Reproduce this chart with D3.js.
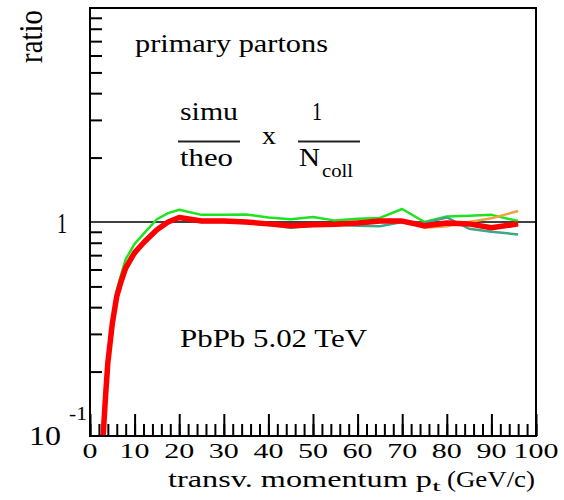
<!DOCTYPE html>
<html>
<head>
<meta charset="UTF-8">
<script src="https://cdnjs.cloudflare.com/ajax/libs/d3/7.8.5/d3.min.js"></script>
</head>
<body style="margin:0">
<div id="chart"></div>
<script>
// transverse momentum points (GeV/c)
const pt = [2.5, 3, 3.5, 4, 5, 6, 7, 8, 10, 12, 15, 17.5, 20, 25, 30, 35, 40, 45, 50, 55, 60, 65, 70, 75, 80, 85, 90, 96];

// ratio simu/theo x 1/Ncoll, one array per curve
const greenRatio  = [0.075, 0.11, 0.165, 0.235, 0.35, 0.48, 0.57, 0.67, 0.79, 0.88, 1.03, 1.1, 1.14, 1.08, 1.08, 1.085, 1.05, 1.03, 1.055, 1.015, 1.035, 1.045, 1.15, 1.0, 1.06, 1.07, 1.08, 1.01];
const tealRatio   = [0.065, 0.1, 0.145, 0.21, 0.32, 0.43, 0.51, 0.59, 0.70, 0.79, 0.91, 0.99, 1.04, 1.0, 1.0, 0.99, 0.97, 0.94, 0.96, 0.97, 0.96, 0.955, 1.0, 0.99, 1.05, 0.93, 0.9, 0.875];
const orangeRatio = [0.07, 0.105, 0.155, 0.22, 0.335, 0.45, 0.53, 0.61, 0.72, 0.80, 0.92, 1.0, 1.05, 1.01, 1.01, 1.0, 0.98, 0.965, 0.975, 0.98, 0.99, 1.0, 1.02, 0.94, 0.955, 1.0, 1.04, 1.125];
const redRatio    = [0.07, 0.105, 0.155, 0.22, 0.335, 0.45, 0.53, 0.61, 0.72, 0.80, 0.92, 1.0, 1.05, 1.01, 1.01, 1.0, 0.98, 0.96, 0.97, 0.975, 0.99, 1.01, 1.01, 0.96, 0.99, 0.98, 0.94, 0.98];

const xMajor = [0, 10, 20, 30, 40, 50, 60, 70, 80, 90, 100];
const yMinor = [0.2, 0.3, 0.4, 0.5, 0.6, 0.7, 0.8, 0.9, 2, 3, 4, 5, 6, 7, 8, 9];

const W = 564, H = 500;
const box = { left: 90, right: 536, top: 8, bottom: 436 };
const FONT = "'Liberation Serif'";

const svg = d3.select("#chart").append("svg")
    .attr("width", W)
    .attr("height", H);

const x = d3.scaleLinear().domain([0, 100]).range([box.left, box.right]);
const y = d3.scaleLog().domain([0.1, 10]).range([box.bottom, box.top]);

// text helper; width forced with textLength (reference glyphs are wider)
function label(px, py, size, str, len, anchor) {
  const t = svg.append("text")
      .attr("x", px).attr("y", py)
      .attr("font-family", FONT)
      .attr("font-size", size)
      .attr("fill", "#000")
      .attr("text-anchor", anchor || "start")
      .text(str);
  if (len) t.attr("textLength", len).attr("lengthAdjust", "spacingAndGlyphs");
  return t;
}

svg.append("clipPath").attr("id", "clip")
  .append("rect")
    .attr("x", box.left).attr("y", box.top)
    .attr("width", box.right - box.left)
    .attr("height", box.bottom - box.top);

function styleAxis(g) {
  g.select(".domain").remove();
  g.selectAll(".tick line").attr("stroke", "#000").attr("stroke-width", 2);
}

// x ticks: minor then major (pointing into the frame)
svg.append("g")
    .attr("transform", "translate(0," + box.bottom + ")")
    .call(d3.axisBottom(x).tickValues(d3.range(0, 101, 2)).tickSize(-12).tickFormat(""))
    .call(styleAxis);
svg.append("g")
    .attr("transform", "translate(0," + box.bottom + ")")
    .call(d3.axisBottom(x).tickValues(xMajor).tickSize(-22).tickFormat(""))
    .call(styleAxis);
// x tick labels
xMajor.forEach(v => label(x(v), box.bottom + 22, 22, String(v), String(v).length * 15, "middle"));

// y ticks
svg.append("g")
    .attr("transform", "translate(" + box.left + ",0)")
    .call(d3.axisLeft(y).tickValues(yMinor).tickSize(-12).tickFormat(""))
    .call(styleAxis);

// y labels
label(67, y(1) + 11, 29, "1", 10, "end");
label(29, y(0.1) + 9, 27, "10", 32);
label(69, y(0.1) - 16, 19, "-1", 18);

// axis titles
svg.append("text")
    .attr("transform", "translate(41.5,63) scale(1.15,1) rotate(-90)")
    .attr("font-family", FONT)
    .attr("font-size", 29)
    .attr("textLength", 53).attr("lengthAdjust", "spacingAndGlyphs")
    .text("ratio");
label(168, 487, 23, "transv. momentum p", 264);
label(432, 491, 15, "t", 9);
label(447, 487, 23, "(GeV/c)", 88);

// reference line at 1
svg.append("line")
    .attr("x1", box.left).attr("x2", box.right)
    .attr("y1", y(1)).attr("y2", y(1))
    .attr("stroke", "#000").attr("stroke-width", 1.6);

// curves
const series = [
  { vals: greenRatio,  color: "#1ee31e", w: 2.5 },
  { vals: tealRatio,   color: "#3aa88a", w: 2.5 },
  { vals: orangeRatio, color: "#eea33a", w: 2.5 },
  { vals: redRatio,    color: "#ff0000", w: 5.5 }
];
const line = d3.line().x((d, i) => x(pt[i])).y(d => y(d));
svg.append("g").attr("clip-path", "url(#clip)")
  .selectAll("path").data(series).enter().append("path")
    .attr("d", d => line(d.vals))
    .attr("fill", "none")
    .attr("stroke", d => d.color)
    .attr("stroke-width", d => d.w)
    .attr("stroke-linejoin", "round");

// frame
svg.append("rect")
    .attr("x", box.left).attr("y", box.top)
    .attr("width", box.right - box.left)
    .attr("height", box.bottom - box.top)
    .attr("fill", "none").attr("stroke", "#000").attr("stroke-width", 2);

// annotations
label(135, 52, 26, "primary partons", 193);
label(180, 120, 26, "simu", 58);
label(180, 166, 26, "theo", 53);
svg.append("line").attr("x1", 178).attr("x2", 240).attr("y1", 141.5).attr("y2", 141.5)
    .attr("stroke", "#222").attr("stroke-width", 2);
label(262, 144, 26, "x", 14);
label(312, 120, 26, "1", 10);
svg.append("line").attr("x1", 298).attr("x2", 360).attr("y1", 141.5).attr("y2", 141.5)
    .attr("stroke", "#222").attr("stroke-width", 2);
label(299, 166, 26, "N", 21);
label(322, 177, 18, "coll", 31);
label(180, 347, 26, "PbPb 5.02 TeV", 187);
</script>
</body>
</html>
